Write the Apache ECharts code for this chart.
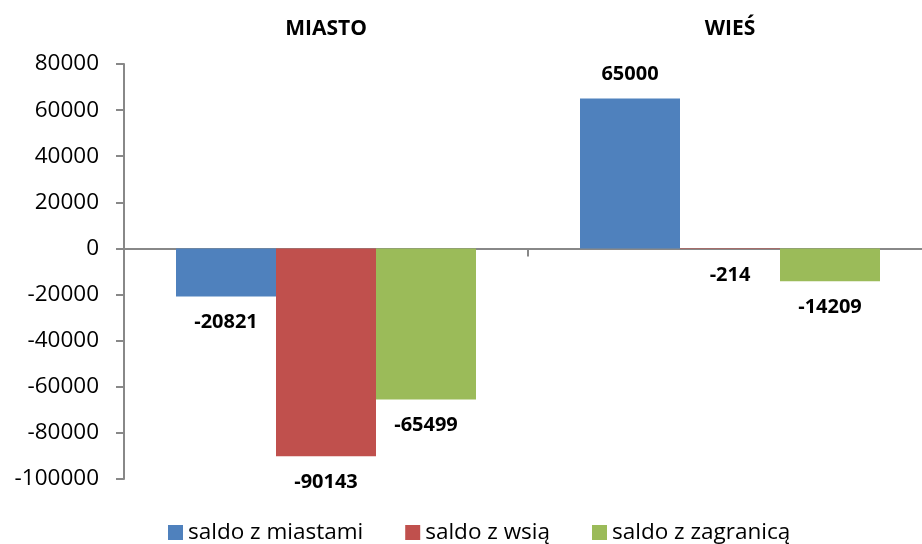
<!DOCTYPE html>
<html>
<head>
<meta charset="utf-8">
<script src="https://cdn.jsdelivr.net/npm/echarts@6/dist/echarts.min.js"></script>
<style>
  html, body { margin: 0; padding: 0; background: #fff; overflow: hidden; }
  /* wykres szerszy niz okno - prawa krawedz osi jest przycieta jak w oryginale */
  #chart { width: 960px; height: 544px; }
</style>
</head>
<body>
<div id="chart"></div>
<script>
// dane
const categories = ['MIASTO', 'WIEŚ'];
const seriesNames = ['saldo z miastami', 'saldo z wsią', 'saldo z zagranicą'];
const saldoMiasta = [-20821, 65000];
const saldoWies = [-90143, -214];
const saldoZagranica = [-65499, -14209];
const colors = ['#4F81BD', '#C0504D', '#9BBB59'];

const font = '"Open Sans", sans-serif';

function bar(name, data, color) {
  return {
    name: name,
    type: 'bar',
    data: data.map(function (v) {
      // etykieta pod slupkiem dla wartosci ujemnych
      return {
        value: v,
        label: { position: v < 0 ? 'bottom' : 'top', distance: v < 0 ? 16 : 14 }
      };
    }),
    barWidth: 100,
    barGap: '0%',
    itemStyle: { color: color },
    label: {
      show: true,
      fontFamily: font,
      fontWeight: 'bold',
      fontSize: 20,
      color: '#000'
    }
  };
}

const chart = echarts.init(document.getElementById('chart'));
chart.setOption({
  animation: false,
  color: colors,
  legend: {
    bottom: 0,
    left: 168,
    padding: 0,
    itemWidth: 15,
    itemHeight: 15,
    itemGap: 42,
    icon: 'rect',
    data: seriesNames,
    textStyle: { fontFamily: font, fontSize: 22.5, color: '#000' }
  },
  grid: {
    left: 124,
    top: 64,
    width: 808,
    height: 415,
    containLabel: false
  },
  xAxis: [
    {
      type: 'category',
      data: categories,
      position: 'bottom',
      axisLine: { onZero: true, lineStyle: { color: '#888', width: 2 } },
      axisTick: { show: true, length: 8, lineStyle: { color: '#888', width: 2 } },
      axisLabel: { show: false }
    },
    {
      type: 'category',
      data: categories,
      position: 'top',
      offset: 16,
      axisLine: { show: false },
      axisTick: { show: false },
      axisLabel: {
        fontFamily: font,
        fontWeight: 'bold',
        fontSize: 21,
        color: '#000'
      }
    }
  ],
  yAxis: {
    type: 'value',
    min: -100000,
    max: 80000,
    interval: 20000,
    axisLine: { show: true, lineStyle: { color: '#888', width: 2 } },
    axisTick: { show: true, length: 8, lineStyle: { color: '#888', width: 2 } },
    splitLine: { show: false },
    axisLabel: {
      fontFamily: font,
      fontSize: 22.5,
      color: '#000',
      margin: 25,
      formatter: function (v) { return String(v); }
    }
  },
  series: [
    bar(seriesNames[0], saldoMiasta, colors[0]),
    bar(seriesNames[1], saldoWies, colors[1]),
    bar(seriesNames[2], saldoZagranica, colors[2])
  ]
});
</script>
</body>
</html>
